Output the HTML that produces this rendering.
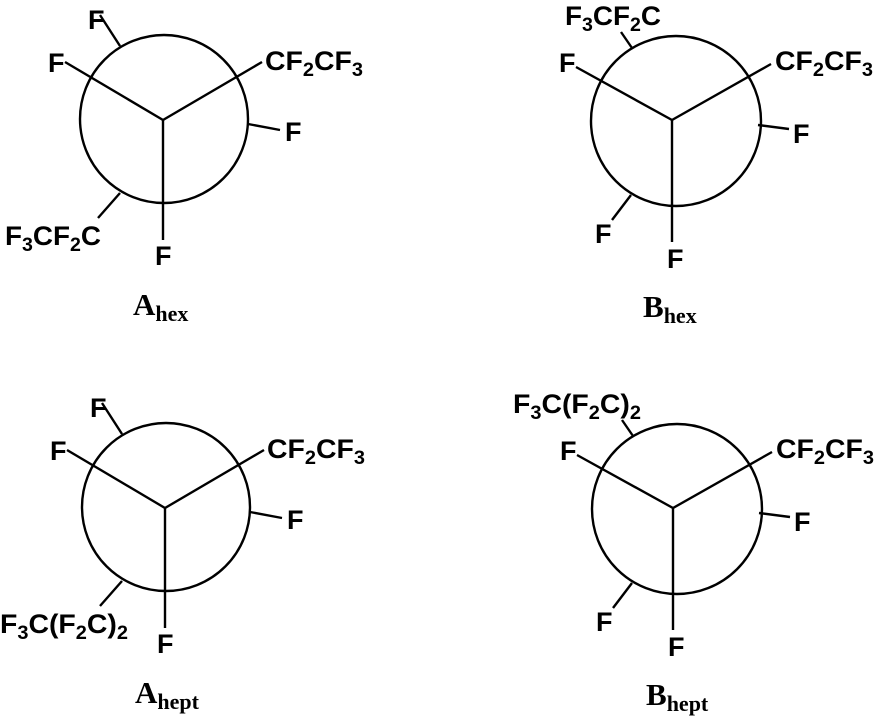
<!DOCTYPE html>
<html><head><meta charset="utf-8"><style>body{margin:0;background:#fff}svg{display:block}</style></head><body>
<svg width="874" height="721" viewBox="0 0 874 721" xmlns="http://www.w3.org/2000/svg">
<defs>
<g id="A" stroke="#000" stroke-width="2.4" fill="none">
<circle cx="1" cy="-1" r="84"/>
<line x1="0" y1="0" x2="-98" y2="-58"/><line x1="0" y1="0" x2="99" y2="-58"/><line x1="0" y1="0" x2="0" y2="120"/>
<line x1="-43" y1="-74" x2="-63" y2="-105"/><line x1="85" y1="4" x2="117" y2="10"/><line x1="-43" y1="73" x2="-65" y2="98"/>
</g>
<g id="B" stroke="#000" stroke-width="2.4" fill="none">
<circle cx="4" cy="1" r="85"/>
<line x1="0" y1="0" x2="-96" y2="-53"/><line x1="0" y1="0" x2="99" y2="-56"/><line x1="0" y1="0" x2="0" y2="122"/>
<line x1="-40" y1="-72" x2="-51" y2="-88"/><line x1="86" y1="5" x2="117" y2="9"/><line x1="-41" y1="75" x2="-60" y2="100"/>
</g>
</defs>
<g font-family="Liberation Sans, sans-serif" font-weight="bold" font-size="27" fill="#000">
<!-- A_hex -->
<use href="#A" x="163" y="120"/>
<text x="88" y="29">F</text>
<text x="48" y="72">F</text>
<text x="265" y="70" textLength="98" lengthAdjust="spacingAndGlyphs">CF<tspan font-size="19" dy="6">2</tspan><tspan dy="-6">CF</tspan><tspan font-size="19" dy="6">3</tspan></text>
<text x="285" y="141">F</text>
<text x="5" y="245" textLength="96" lengthAdjust="spacingAndGlyphs">F<tspan font-size="19" dy="6">3</tspan><tspan dy="-6">CF</tspan><tspan font-size="19" dy="6">2</tspan><tspan dy="-6">C</tspan></text>
<text x="155" y="265">F</text>
<!-- A_hept -->
<use href="#A" x="165" y="508"/>
<text x="90" y="417">F</text>
<text x="50" y="460">F</text>
<text x="267" y="458" textLength="98" lengthAdjust="spacingAndGlyphs">CF<tspan font-size="19" dy="6">2</tspan><tspan dy="-6">CF</tspan><tspan font-size="19" dy="6">3</tspan></text>
<text x="287" y="529">F</text>
<text x="0" y="633" textLength="128" lengthAdjust="spacingAndGlyphs">F<tspan font-size="19" dy="6">3</tspan><tspan dy="-6">C(F</tspan><tspan font-size="19" dy="6">2</tspan><tspan dy="-6">C)</tspan><tspan font-size="19" dy="6">2</tspan></text>
<text x="157" y="653">F</text>
<!-- B_hept -->
<use href="#B" x="673" y="508"/>
<text x="513" y="413" textLength="128" lengthAdjust="spacingAndGlyphs">F<tspan font-size="19" dy="6">3</tspan><tspan dy="-6">C(F</tspan><tspan font-size="19" dy="6">2</tspan><tspan dy="-6">C)</tspan><tspan font-size="19" dy="6">2</tspan></text>
<text x="560" y="460">F</text>
<text x="776" y="458" textLength="98" lengthAdjust="spacingAndGlyphs">CF<tspan font-size="19" dy="6">2</tspan><tspan dy="-6">CF</tspan><tspan font-size="19" dy="6">3</tspan></text>
<text x="794" y="531">F</text>
<text x="596" y="631">F</text>
<text x="668" y="656">F</text>
<!-- B_hex -->
<use href="#B" x="672" y="120"/>
<text x="565" y="25" textLength="96" lengthAdjust="spacingAndGlyphs">F<tspan font-size="19" dy="6">3</tspan><tspan dy="-6">CF</tspan><tspan font-size="19" dy="6">2</tspan><tspan dy="-6">C</tspan></text>
<text x="559" y="72">F</text>
<text x="775" y="70" textLength="98" lengthAdjust="spacingAndGlyphs">CF<tspan font-size="19" dy="6">2</tspan><tspan dy="-6">CF</tspan><tspan font-size="19" dy="6">3</tspan></text>
<text x="793" y="143">F</text>
<text x="595" y="243">F</text>
<text x="667" y="268">F</text>
</g>
<g font-family="Liberation Serif, serif" font-weight="bold" font-size="31" fill="#000">
<text x="133" y="315">A<tspan font-size="22" dy="6">hex</tspan></text>
<text x="135" y="703">A<tspan font-size="22" dy="6">hept</tspan></text>
<text x="643" y="317">B<tspan font-size="22" dy="6">hex</tspan></text>
<text x="646" y="705">B<tspan font-size="22" dy="6">hept</tspan></text>
</g>
</svg>
</body></html>
